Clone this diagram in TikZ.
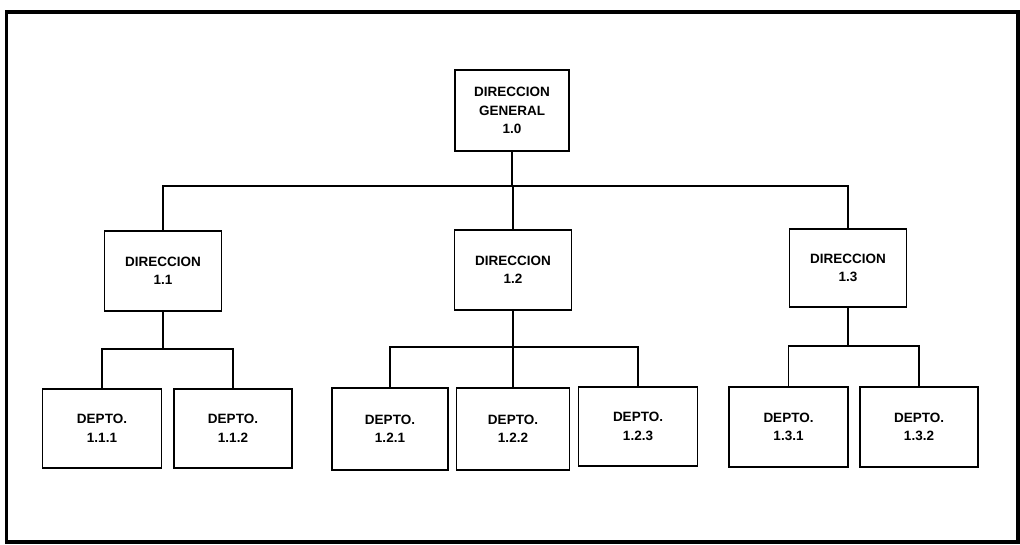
\documentclass[tikz,border=0pt]{standalone}
\usepackage{fontspec}
\setmainfont{Liberation Sans}
\begin{document}
\begin{tikzpicture}[x=1pt,y=-1pt,
  unit/.style={draw=black, line width=1.6pt, fill=white, align=center,
    inner sep=0pt, minimum width=117pt, minimum height=80pt,
    font=\fontsize{13.5}{18.5}\selectfont\bfseries},
  link/.style={draw=black, line width=1.3pt},
  frame/.style={draw=black, line width=3.8pt}]
\useasboundingbox (0,0) rectangle (1020,544);
\draw[frame] (6.5,12) rectangle (1018,542);

% top level
\node[unit, minimum width=114pt, minimum height=81pt] (g) at (512,110.5)
  {DIRECCION\\GENERAL\\1.0};

% directions
\node[unit] (d1) at (163,271) {DIRECCION\\1.1};
\node[unit] (d2) at (513,270) {DIRECCION\\1.2};
\node[unit, minimum height=78pt] (d3) at (848,268) {DIRECCION\\1.3};

% departments
\node[unit, minimum width=119pt, minimum height=79pt] (p111) at (102,428.5) {DEPTO.\\1.1.1};
\node[unit, minimum width=118pt, minimum height=79pt] (p112) at (233,428.5) {DEPTO.\\1.1.2};
\node[unit, minimum width=116pt, minimum height=82pt] (p121) at (390,429) {DEPTO.\\1.2.1};
\node[unit, minimum width=113pt, minimum height=82pt] (p122) at (513,429) {DEPTO.\\1.2.2};
\node[unit, minimum width=119pt, minimum height=79pt] (p123) at (638,426.5) {DEPTO.\\1.2.3};
\node[unit, minimum width=119pt, minimum height=80pt] (p131) at (788.5,427) {DEPTO.\\1.3.1};
\node[unit, minimum width=118pt, minimum height=80pt] (p132) at (919,427) {DEPTO.\\1.3.2};

% bus junctions
\coordinate (b0) at (512,186);
\coordinate (b1) at (163,349);
\coordinate (b2) at (513,347);
\coordinate (b3) at (848,346);

% connectors
\draw[link] (g.south) -- (b0);
\draw[link] (d1.north) |- (b0) -| (d3.north);
\draw[link] (b0) -| (d2.north);

\draw[link] (d1.south) -- (b1);
\draw[link] (p111.north) |- (b1) -| (p112.north);

\draw[link] (d2.south) -- (b2);
\draw[link] (p121.north) |- (b2) -| (p123.north);
\draw[link] (b2) -- (p122.north);

\draw[link] (d3.south) -- (b3);
\draw[link] (p131.north) |- (b3) -| (p132.north);
\end{tikzpicture}
\end{document}
